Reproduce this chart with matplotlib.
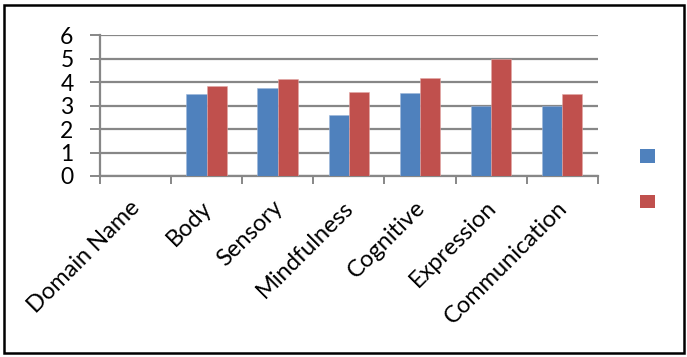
import matplotlib
matplotlib.use("Agg")
import matplotlib.pyplot as plt
import matplotlib.transforms as mtrans
import numpy as np
from matplotlib.patches import Rectangle, Patch

# Domain scores (first column is the header row, left empty)
domains = ["Domain Name", "Body", "Sensory", "Mindfulness", "Cognitive",
           "Expression", "Communication"]
series_a = [np.nan, 3.5, 3.75, 2.6, 3.55, 3.0, 3.0]
series_b = [np.nan, 3.82, 4.12, 3.6, 4.18, 5.0, 3.5]
y_ticks = [0, 1, 2, 3, 4, 5, 6]

BLUE = "#4F81BD"
RED = "#C0504D"
GRID = "#878787"

plt.rcParams["font.family"] = ["Lato", "DejaVu Sans"]

fig = plt.figure(figsize=(6.87, 3.57), dpi=100)
ax = fig.add_axes([100 / 687, 1 - 176 / 357, (597.7 - 100) / 687, (176 - 35.3) / 357])

x = np.arange(len(domains))
w = 2 / 7  # gap width 150%
ax.bar(x - w / 2, series_a, width=w, color=BLUE, edgecolor="#9DB7DA", linewidth=0.4, zorder=3)
ax.bar(x + w / 2, series_b, width=w, color=RED, edgecolor="#E2A8A6", linewidth=0.4, zorder=3)

ax.set_xlim(-0.5, len(domains) - 0.5)
ax.set_ylim(0, 6)
ax.set_yticks(y_ticks)
ax.set_yticklabels([str(t) for t in y_ticks], fontsize=16.5)
ax.yaxis.grid(True, color=GRID, linewidth=1.6, zorder=0)
ax.set_axisbelow(True)

ax.set_xticks(x)
ax.set_xticklabels(domains, rotation=45, ha="right", va="top",
                   rotation_mode="anchor", fontsize=17)
ax.set_xticks(np.arange(len(domains) + 1) - 0.5, minor=True)
ax.tick_params(axis="x", which="major", length=0, pad=15)
ax.tick_params(axis="x", which="minor", length=6, width=1.4, color=GRID)
ax.tick_params(axis="y", length=7, width=1.4, color=GRID, pad=12)
offset = mtrans.ScaledTranslation(-6 / 100, 0, fig.dpi_scale_trans)
for lbl in ax.get_xticklabels():
    lbl.set_transform(lbl.get_transform() + offset)

for side in ["top", "right"]:
    ax.spines[side].set_visible(False)
for side in ["left", "bottom"]:
    ax.spines[side].set_color(GRID)
    ax.spines[side].set_linewidth(1.6)

# legend keys without text
handles = [Patch(facecolor=BLUE), Patch(facecolor=RED)]
fig.legend(handles, ["", ""], loc="upper left",
           bbox_to_anchor=(640 / 687, 1 - 149 / 357), frameon=False,
           fontsize=11, handlelength=1, handleheight=1.0,
           labelspacing=2.0, borderpad=0, handletextpad=0, borderaxespad=0)

# chart area border
fig.add_artist(Rectangle((4 / 687, 4 / 357), 680 / 687, 348 / 357,
                         transform=fig.transFigure, fill=False,
                         edgecolor="black", linewidth=1.8))

fig.savefig("out.png", dpi=100)
